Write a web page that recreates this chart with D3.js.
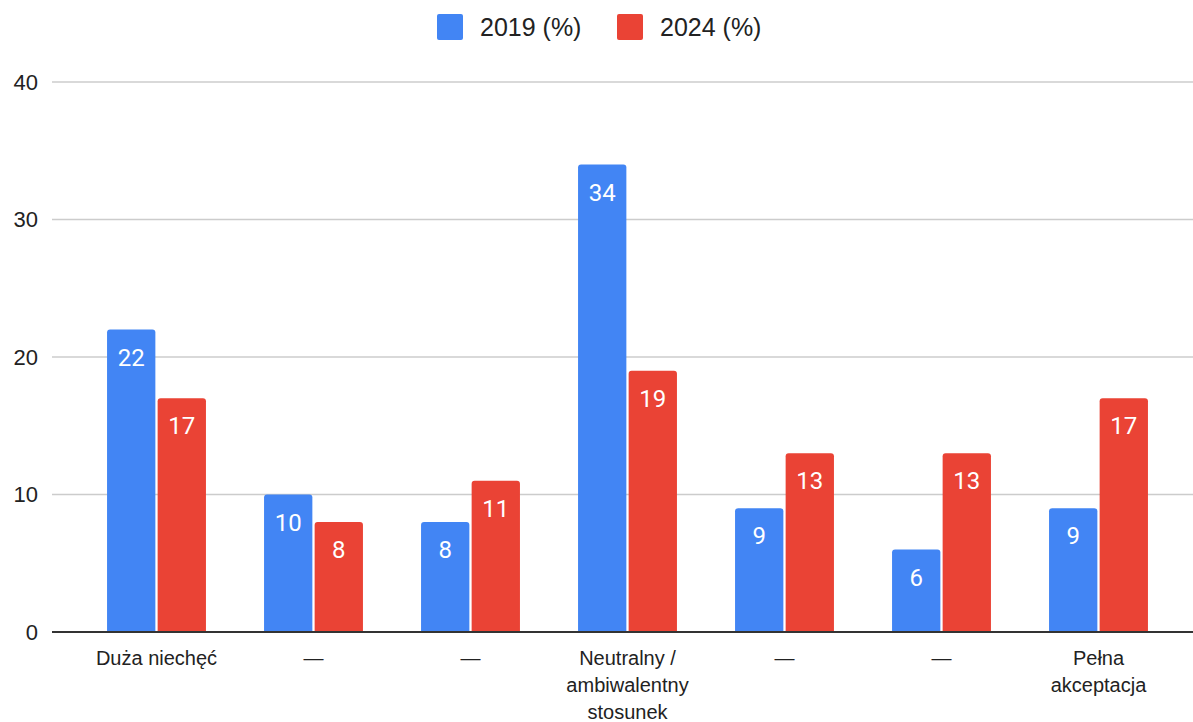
<!DOCTYPE html>
<html>
<head>
<meta charset="utf-8">
<script src="https://cdn.jsdelivr.net/npm/d3@7"></script>
<style>
  body { margin: 0; background: #fff; }
  svg { display: block; }
</style>
</head>
<body>
<div id="chart"></div>
<script>
// chart values
const categories = ["Duża niechęć", "—", "—", "Neutralny / ambiwalentny stosunek", "—", "—", "Pełna akceptacja"];
const seriesNames = ["2019 (%)", "2024 (%)"];
const values2019 = [22, 10, 8, 34, 9, 6, 9];
const values2024 = [17, 8, 11, 19, 13, 13, 17];
const yTicks = [0, 10, 20, 30, 40];
const colors = ["#4285f4", "#ea4335"];

const width = 1193, height = 722;
const svg = d3.select("#chart").append("svg")
    .attr("width", width)
    .attr("height", height);

const rows = categories.map((c, i) => ({cat: i, vals: [values2019[i], values2024[i]]}));

const y = d3.scaleLinear().domain([0, 40]).range([632, 82]);

const x0 = d3.scaleBand()
    .domain(d3.range(categories.length))
    .range([78, 1177])
    .paddingInner(0.37)
    .paddingOuter(0.185);

const x1 = d3.scaleBand()
    .domain([0, 1])
    .range([0, x0.bandwidth()])
    .paddingInner(0.045);

// gridlines
svg.append("g")
    .selectAll("line")
    .data(yTicks.filter(d => d > 0))
    .enter().append("line")
    .attr("x1", 52).attr("x2", width)
    .attr("y1", d => y(d)).attr("y2", d => y(d))
    .attr("stroke", "#cccccc")
    .attr("stroke-width", 1.3);

// y labels
svg.append("g")
    .selectAll("text")
    .data(yTicks)
    .enter().append("text")
    .attr("x", 38)
    .attr("y", d => y(d))
    .attr("dy", "0.36em")
    .attr("text-anchor", "end")
    .style("font-family", "Arial, 'Liberation Sans', sans-serif")
    .style("font-size", "22px")
    .attr("fill", "#222")
    .text(d => d);

// bars, top corners slightly rounded
function topRounded(x, yTop, w, h, r) {
    r = Math.min(r, h, w / 2);
    return `M${x},${yTop + h} V${yTop + r} Q${x},${yTop} ${x + r},${yTop} H${x + w - r} Q${x + w},${yTop} ${x + w},${yTop + r} V${yTop + h} Z`;
}

const groups = svg.append("g")
    .selectAll("g")
    .data(rows)
    .enter().append("g")
    .attr("transform", d => `translate(${x0(d.cat)},0)`);

groups.selectAll("path")
    .data(d => d.vals.map((v, s) => ({s: s, v: v})))
    .enter().append("path")
    .attr("d", d => topRounded(x1(d.s), y(d.v), x1.bandwidth(), y(0) - y(d.v), 3))
    .attr("fill", d => colors[d.s]);

groups.selectAll("text")
    .data(d => d.vals.map((v, s) => ({s: s, v: v})))
    .enter().append("text")
    .attr("x", d => x1(d.s) + x1.bandwidth() / 2)
    .attr("y", d => y(d.v) + 36)
    .attr("text-anchor", "middle")
    .style("font-family", "Roboto, Arial, sans-serif")
    .style("font-size", "24px")
    .attr("fill", "#fff")
    .text(d => d.v);

// baseline
svg.append("line")
    .attr("x1", 52).attr("x2", width)
    .attr("y1", y(0)).attr("y2", y(0))
    .attr("stroke", "#333")
    .attr("stroke-width", 2);

// x labels with wrapping
const xLabels = svg.append("g")
    .selectAll("text")
    .data(categories)
    .enter().append("text")
    .attr("x", (d, i) => x0(i) + x0.bandwidth() / 2)
    .attr("y", 665)
    .attr("text-anchor", "middle")
    .style("font-family", "Arial, 'Liberation Sans', sans-serif")
    .style("font-size", "20px")
    .attr("fill", "#222");

xLabels.each(function (d) {
    const text = d3.select(this);
    const words = d.split(" ");
    const maxW = 135;
    let line = [];
    let tspan = text.append("tspan").attr("x", text.attr("x")).attr("dy", 0);
    words.forEach(function (w) {
        line.push(w);
        tspan.text(line.join(" "));
        if (tspan.node().getComputedTextLength() > maxW && line.length > 1) {
            line.pop();
            tspan.text(line.join(" "));
            line = [w];
            tspan = text.append("tspan").attr("x", text.attr("x")).attr("dy", 27).text(w);
        }
    });
});

// legend
const legend = svg.append("g");
const legendX = [437, 617];
seriesNames.forEach(function (name, i) {
    legend.append("rect")
        .attr("x", legendX[i]).attr("y", 14)
        .attr("width", 26).attr("height", 26)
        .attr("rx", 2)
        .attr("fill", colors[i]);
    legend.append("text")
        .attr("x", legendX[i] + 43)
        .attr("y", 27)
        .attr("dy", "0.36em")
        .style("font-family", "Arial, 'Liberation Sans', sans-serif")
        .style("font-size", "25px")
        .attr("fill", "#222")
        .text(name);
});
</script>
</body>
</html>
